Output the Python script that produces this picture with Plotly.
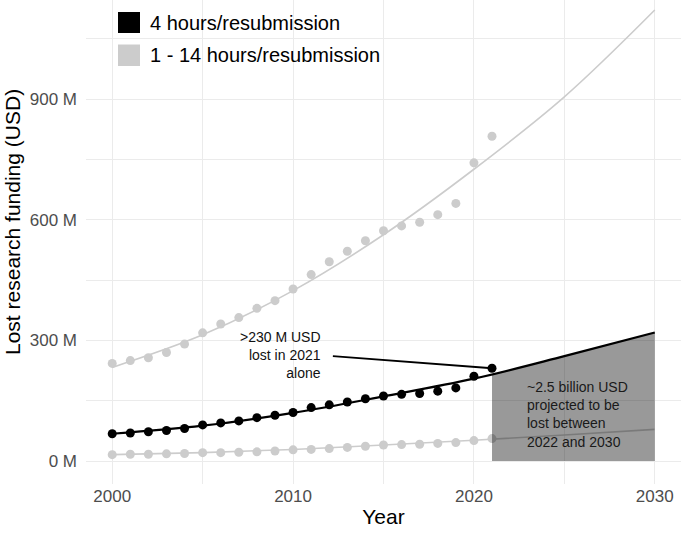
import plotly.graph_objects as go

# ---------------- data (millions of USD) ----------------
years = list(range(2000, 2022))
lost_4h = [68, 70, 73, 76, 81, 90, 95, 100, 108, 114, 121, 133, 140, 147, 155,
           162, 166, 168, 174, 182, 211, 231]
lost_14h = [243, 250, 257, 270, 291, 319, 341, 357, 380, 399, 428, 464, 496, 522,
            548, 573, 585, 594, 613, 641, 742, 808]
lost_1h = [16, 17, 17, 18, 19, 21, 21, 22, 23, 25, 28, 29, 31, 34, 37, 40, 41,
           42, 44, 46, 51, 56]

# fitted trend curves
trend_years = [2000, 2005, 2010, 2015, 2020, 2025, 2030]
trend_4h = [68, 88, 120, 161, 205, 261, 320]
trend_14h = [233, 314, 424, 563, 726, 906, 1122]
trend_1h = [16, 21, 29, 40, 52, 65, 79]

proj_years = [2021, 2025, 2030]
proj_4h = [215, 261, 320]

legend_labels = ["4 hours/resubmission", "1 - 14 hours/resubmission"]
y_ticks = [0, 300, 600, 900]
x_ticks = [2000, 2010, 2020, 2030]

BLACK = "#000000"
GREY = "#cccccc"
FONT = "Liberation Sans, Arial, sans-serif"

fig = go.Figure()

# low (1 h) series
fig.add_trace(go.Scatter(x=trend_years, y=trend_1h, mode="lines",
                         line=dict(color=GREY, width=1.6, shape="spline"),
                         showlegend=False, hoverinfo="skip"))
fig.add_trace(go.Scatter(x=years, y=lost_1h, mode="markers",
                         marker=dict(color=GREY, size=9), showlegend=False))
# high (14 h) series
fig.add_trace(go.Scatter(x=trend_years, y=trend_14h, mode="lines",
                         line=dict(color=GREY, width=1.6, shape="spline"),
                         showlegend=False, hoverinfo="skip"))
fig.add_trace(go.Scatter(x=years, y=lost_14h, mode="markers",
                         marker=dict(color=GREY, size=9), showlegend=False))
# projected area
fig.add_trace(go.Scatter(x=proj_years, y=proj_4h, mode="lines",
                         line=dict(color="rgba(0,0,0,0)", width=0, shape="spline"),
                         fill="tozeroy", fillcolor="rgba(0,0,0,0.4)",
                         showlegend=False, hoverinfo="skip"))
# 4 h series
fig.add_trace(go.Scatter(x=trend_years, y=trend_4h, mode="lines",
                         line=dict(color=BLACK, width=2.2, shape="spline"),
                         showlegend=False, hoverinfo="skip"))
fig.add_trace(go.Scatter(x=years, y=lost_4h, mode="markers",
                         marker=dict(color=BLACK, size=9), showlegend=False))

# annotation for 2021
fig.add_shape(type="line", xref="x", yref="y", x0=2012.2, y0=261,
              x1=years[-1], y1=lost_4h[-1], line=dict(color=BLACK, width=1.8))
fig.add_annotation(x=2011.66, y=264, xref="x", yref="y", showarrow=False,
                   text=">230 M USD<br>lost in 2021<br>alone", align="right",
                   xanchor="right", yanchor="middle",
                   font=dict(family=FONT, size=14, color="#111111"))
fig.add_annotation(x=2022.8, y=115, xref="x", yref="y", showarrow=False,
                   text="~2.5 billion USD<br>projected to be<br>lost between<br>2022 and 2030",
                   align="left", xanchor="left", yanchor="middle",
                   font=dict(family=FONT, size=14, color="#1a1a1a"))

# manual legend
W, H = 595.0, 484.0
leg = [(12, 33, BLACK), (44.5, 66, GREY)]
for (top, bot, col), lab in zip(leg, legend_labels):
    fig.add_shape(type="rect", xref="paper", yref="paper",
                  x0=(118 - 86) / W, x1=(140 - 86) / W,
                  y0=1 - bot / H, y1=1 - top / H,
                  fillcolor=col, line=dict(width=0))
    fig.add_annotation(x=(148 - 86) / W, y=1 - (top + bot) / 2 / H,
                       xref="paper", yref="paper", showarrow=False,
                       text=lab, xanchor="left", yanchor="middle",
                       font=dict(family=FONT, size=20, color="#000000"))

# y-axis title as rotated text
fig.add_annotation(x=(12 - 86) / W, y=1 - 222 / H, xref="paper", yref="paper",
                   showarrow=False, text="Lost research funding (USD)", textangle=-90,
                   xanchor="center", yanchor="middle",
                   font=dict(family=FONT, size=21, color="#000000"))

fig.update_layout(
    width=681, height=535,
    margin=dict(l=86, r=0, t=0, b=51),
    paper_bgcolor="white", plot_bgcolor="white",
    font=dict(family=FONT),
    showlegend=False,
    xaxis=dict(range=[1998.55, 2031.45], tickvals=x_ticks,
               showgrid=True, gridcolor="#ebebeb", gridwidth=1.2,
               minor=dict(dtick=5, tick0=2000, showgrid=True, gridcolor="#ebebeb", gridwidth=0.8),
               zeroline=False, showline=False, ticks="",
               tickfont=dict(family=FONT, size=17, color="#4d4d4d"),
               title=dict(text="Year", font=dict(family=FONT, size=21, color="#000000"),
                          standoff=4)),
    yaxis=dict(range=[-57, 1147], tickvals=y_ticks,
               ticktext=[f"{v} M" for v in y_ticks],
               showgrid=True, gridcolor="#ebebeb", gridwidth=1.2,
               minor=dict(dtick=150, tick0=0, showgrid=True, gridcolor="#ebebeb", gridwidth=0.8),
               zeroline=False, showline=False, ticks="",
               ticklabelstandoff=8,
               tickfont=dict(family=FONT, size=17, color="#4d4d4d")),
)

fig.write_html("out.html")
